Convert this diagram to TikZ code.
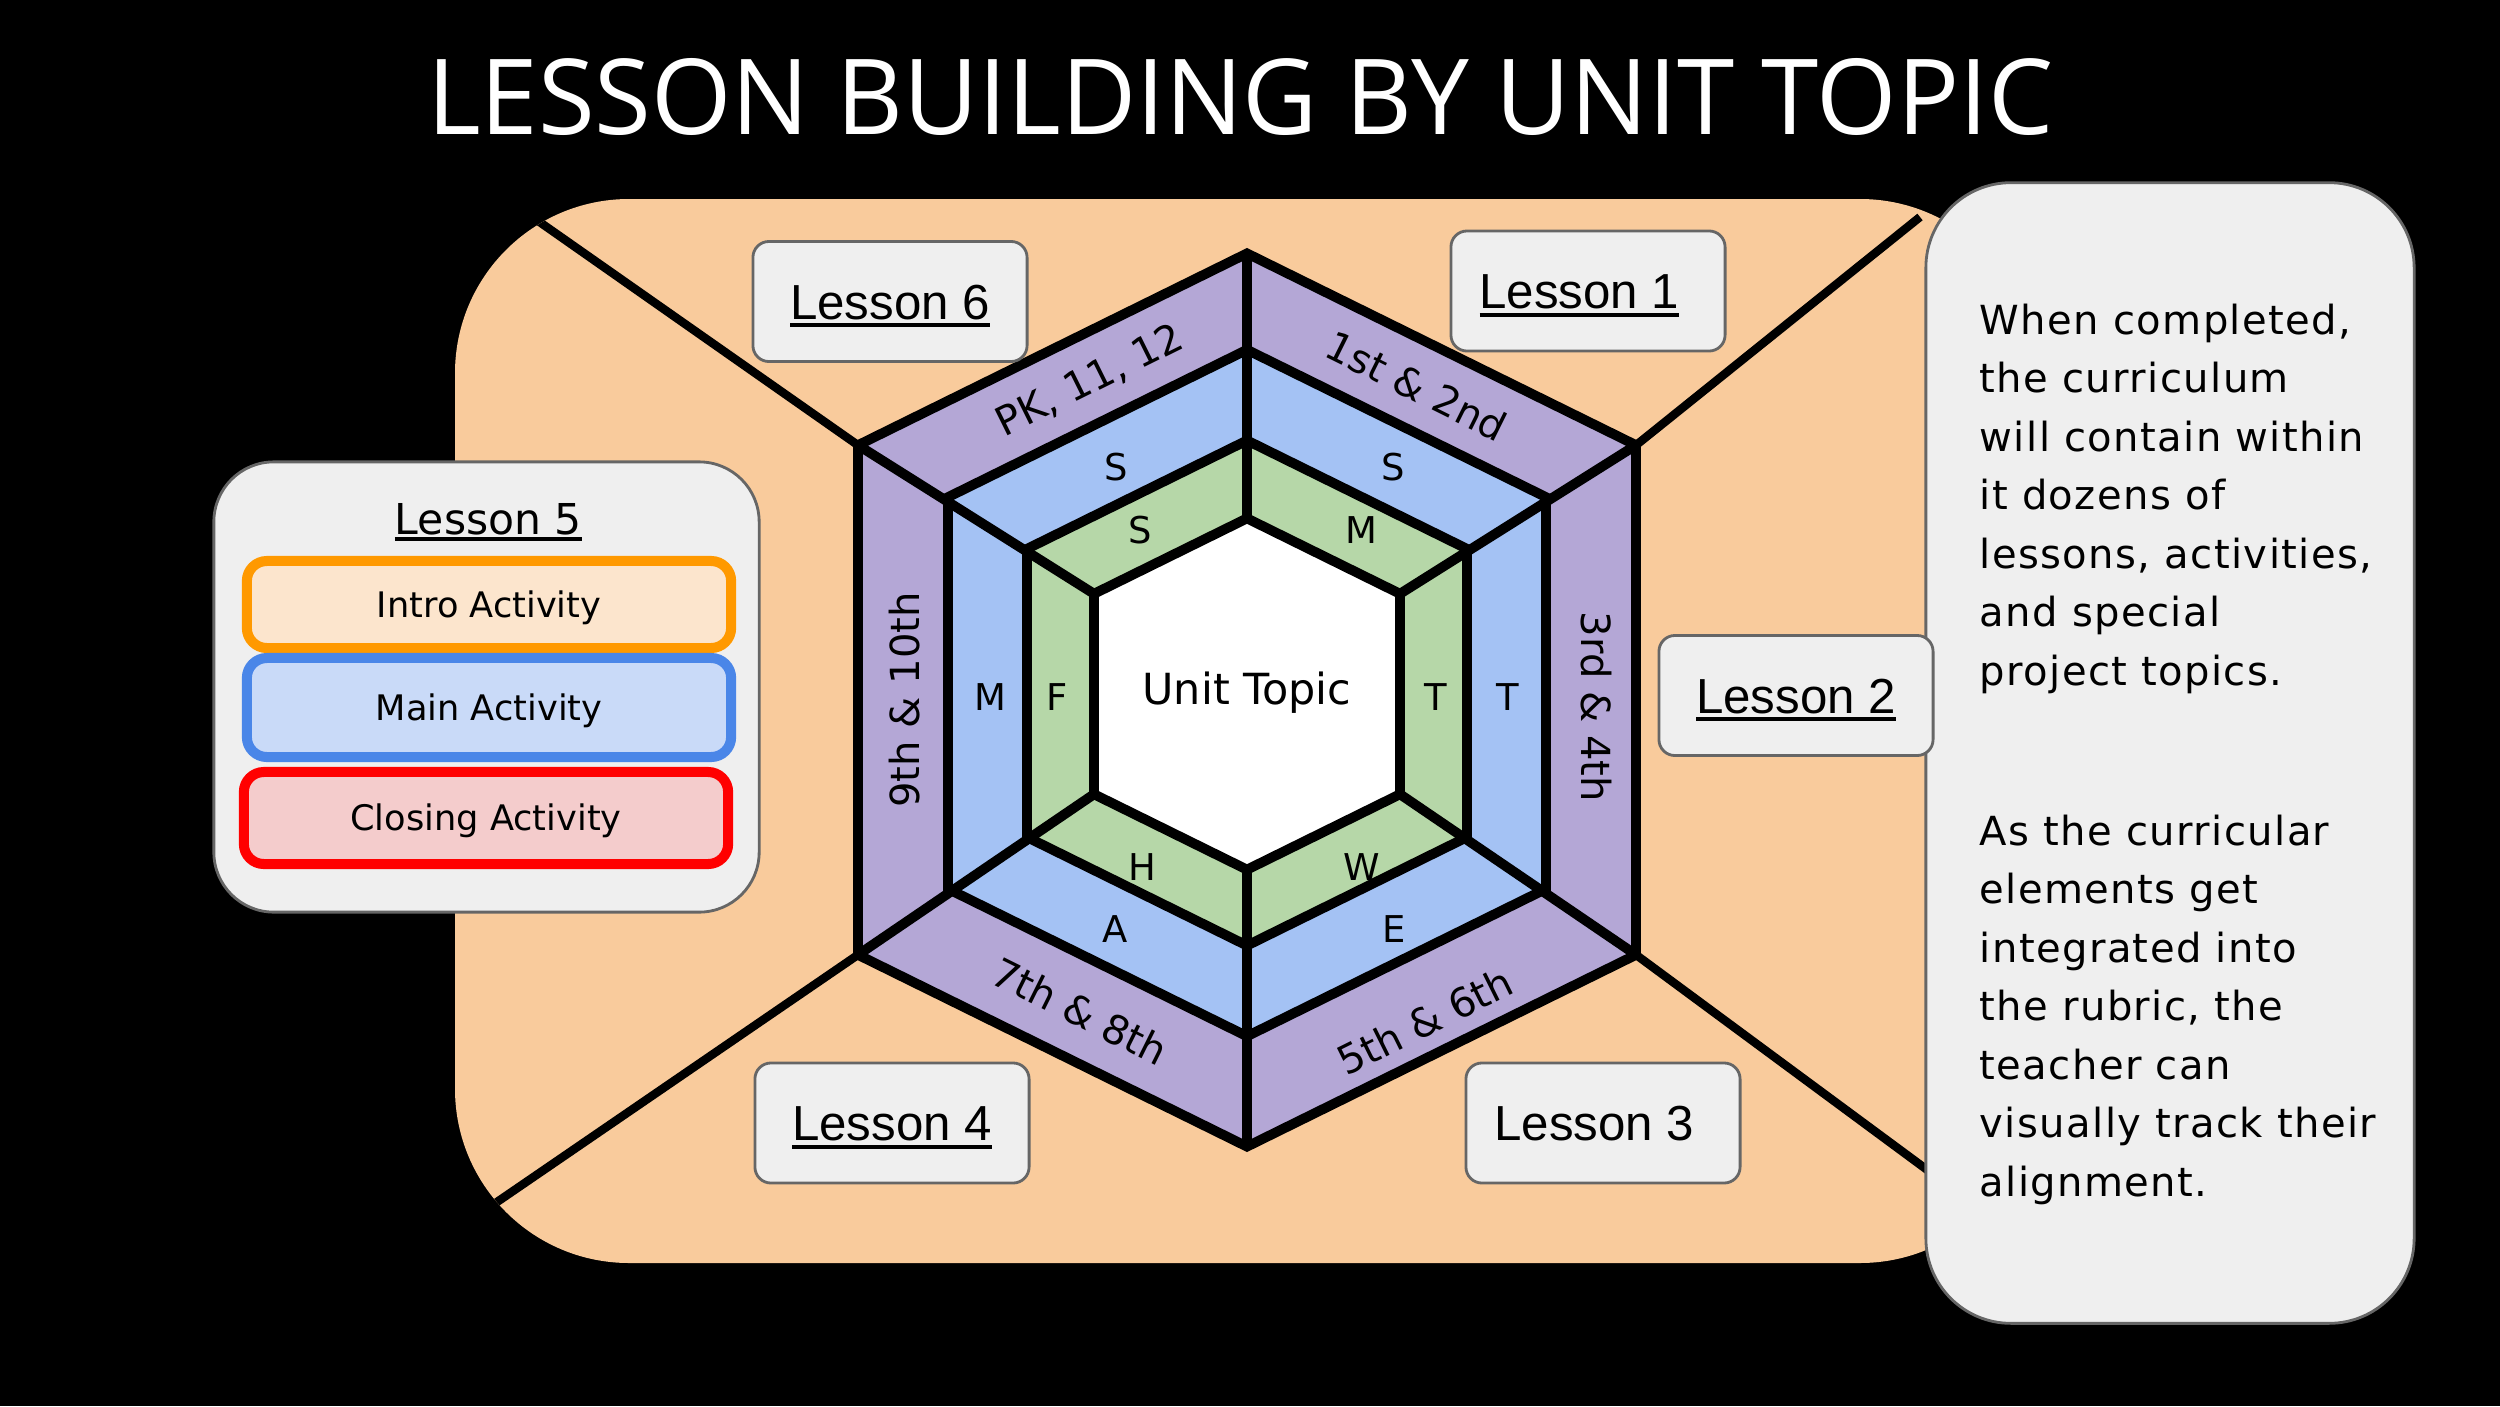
\documentclass[tikz,border=0pt]{standalone}
\usepackage{fontspec}
\usepackage{graphicx}
\setmainfont{DejaVu Sans}
\newfontfamily\arialf{Liberation Sans}
\newfontfamily\titlef{Open Sans}
\newfontfamily\panelf{DejaVu Sans}[LetterSpace=3.5]
\usetikzlibrary{calc}
\definecolor{peach}{HTML}{F9CB9C}
\definecolor{purp}{HTML}{B4A7D6}
\definecolor{bluer}{HTML}{A4C2F4}
\definecolor{greenr}{HTML}{B6D7A8}
\definecolor{panelgray}{HTML}{EFEFEF}
\definecolor{bordergray}{HTML}{666666}
\definecolor{introfill}{HTML}{FCE5CD}
\definecolor{introline}{HTML}{FF9900}
\definecolor{mainfill}{HTML}{C9DAF8}
\definecolor{mainline}{HTML}{4A86E8}
\definecolor{closefill}{HTML}{F4CCCC}
\definecolor{closeline}{HTML}{FF0000}
\newsavebox\ulbox
\newcommand{\ulx}[3]{\sbox\ulbox{#1}\rlap{\rule[#2]{\wd\ulbox}{#3}}\usebox\ulbox}
\tikzset{
  hexline/.style={line width=2.8pt, black},
  divline/.style={line width=2.4pt, black},
  lessonbox/.style={draw=bordergray, line width=0.8pt, fill=panelgray, rounded corners=0.16cm,
    minimum width=2.74cm, minimum height=1.2cm, inner sep=0pt,
    font=\arialf\fontsize{14}{16}\selectfont, text height=10pt, text depth=0pt},
  actbox/.style={line width=2.85pt, rounded corners=0.2cm, minimum width=4.84cm, inner sep=0pt,
    font=\fontsize{10}{12}\selectfont, text height=7.3pt, text depth=0pt},
  plabel/.style={inner sep=0pt, font=\fontsize{11.4}{13}\selectfont},
  hlabel/.style={inner sep=0pt, font=\fontsize{10.5}{12}\selectfont},
  ptext/.style={anchor=base west, inner sep=0pt, font=\panelf\fontsize{11.4}{14}\selectfont},
}
\begin{document}
\begin{tikzpicture}[x=0.01cm, y=-0.01cm]
\useasboundingbox (0,0) rectangle (2500,1406);
\fill[black] (0,0) rectangle (2500,1406);

% title
\node[text=white, anchor=base, inner sep=0pt] (title) at (1240,134)
  {\resizebox{16.25cm}{0.76cm}{\titlef LESSON BUILDING BY UNIT TOPIC}};

% peach background
\fill[peach, rounded corners=1.74cm] (455,199) rectangle (2034,1263);

% hexagon vertices (ring, scale, centre y)
\foreach \n/\s/\cy in {P/389/700,B/299/693,G/220/693,W/153/694}{
  \coordinate (\n0) at (1247, \cy-1.148*\s);
  \coordinate (\n1) at (1247+\s, \cy-0.655*\s);
  \coordinate (\n2) at (1247+\s, \cy+0.655*\s);
  \coordinate (\n3) at (1247, \cy+1.148*\s);
  \coordinate (\n4) at (1247-\s, \cy+0.655*\s);
  \coordinate (\n5) at (1247-\s, \cy-0.655*\s);
}
\coordinate (eUL) at (541,223);
\coordinate (eLL) at (497,1202);
\coordinate (eUR) at (1920,217);
\coordinate (eLR) at (1926,1169);

% long dividing lines
\begin{scope}
  \clip[rounded corners=1.74cm] (455,199) rectangle (2034,1263);
  \draw[divline] (P5) -- ($(P5)!1.2!(eUL)$);
  \draw[divline] (P4) -- ($(P4)!1.2!(eLL)$);
  \draw[divline] (P1) -- (eUR);
  \draw[divline] (P2) -- ($(P2)!1.5!(eLR)$);
\end{scope}

% hexagon rings
\fill[purp] (P0)--(P1)--(P2)--(P3)--(P4)--(P5)--cycle;
\fill[bluer] (B0)--(B1)--(B2)--(B3)--(B4)--(B5)--cycle;
\fill[greenr] (G0)--(G1)--(G2)--(G3)--(G4)--(G5)--cycle;
\fill[white] (W0)--(W1)--(W2)--(W3)--(W4)--(W5)--cycle;
\foreach \n in {P,B,G,W}
  \draw[hexline] (\n0)--(\n1)--(\n2)--(\n3)--(\n4)--(\n5)--cycle;
\foreach \i in {0,...,5}
  \draw[hexline] (W\i) -- (P\i);

% ring labels
\node[plabel, rotate=26.4] (lpk) at (1090,381) {PK, 11, 12};
\node[plabel, rotate=-26.4] (l12) at (1417,386) {1st \& 2nd};
\node[plabel, rotate=-90] (l34) at (1596,707) {3rd \& 4th};
\node[plabel, rotate=26.4] (l56) at (1425,1021) {5th \& 6th};
\node[plabel, rotate=-26.4] (l78) at (1080,1011) {7th \& 8th};
\node[plabel, rotate=90] (l910) at (905,700) {9th \& 10th};

\node[hlabel] (b1) at (1116,467) {S};
\node[hlabel] (b2) at (1393,467) {S};
\node[hlabel] (b3) at (1508,697) {T};
\node[hlabel] (b4) at (1394,929) {E};
\node[hlabel] (b5) at (1115,929) {A};
\node[hlabel] (b6) at (990,697) {M};

\node[hlabel] (g1) at (1140,530) {S};
\node[hlabel] (g2) at (1361,530) {M};
\node[hlabel] (g3) at (1436,697) {T};
\node[hlabel] (g4) at (1362,867) {W};
\node[hlabel] (g5) at (1142,867) {H};
\node[hlabel] (g6) at (1057,697) {F};

\node[anchor=base, inner sep=0pt, font=\fontsize{12.2}{14}\selectfont] (unit) at (1247,704) {Unit Topic};

% lesson boxes
\node[lessonbox] (les6) at (890,301.5) {\ulx{Lesson 6}{-2.3pt}{1.1pt}};
\node[lessonbox] (les1) at (1588,291) {\ulx{Lesson 1}{-2.3pt}{1.1pt}\kern0.17cm};
\node[lessonbox] (les3) at (1603,1123) {Lesson 3\kern0.17cm};
\node[lessonbox] (les4) at (892,1123) {\ulx{Lesson 4}{-2.3pt}{1.1pt}};

% lesson 5
\node[draw=bordergray, line width=0.8pt, fill=panelgray, rounded corners=0.6cm,
  minimum width=5.45cm, minimum height=4.5cm, inner sep=0pt] (les5) at (486.5,687) {};
\node[anchor=base, inner sep=0pt, font=\fontsize{12.1}{14}\selectfont] (les5t) at (488.5,534)
  {\ulx{Lesson 5}{-1.9pt}{1.05pt}};
\node[actbox, draw=introline, fill=introfill, minimum height=0.87cm] (intro) at (489,604.5) {Intro Activity};
\node[actbox, draw=mainline, fill=mainfill, minimum height=0.99cm] (main) at (489,707.5) {Main Activity};
\node[actbox, draw=closeline, fill=closefill, minimum height=0.92cm] (closing) at (486,818) {Closing Activity};

% right panel
\node[draw=bordergray, line width=0.8pt, fill=panelgray, rounded corners=0.85cm,
  minimum width=4.88cm, minimum height=11.4cm, inner sep=0pt] (panel) at (2170,753) {};
\foreach \t [count=\i from 0] in {{When completed,},{the curriculum},{will contain within},{it dozens of},{lessons, activities,},{and special},{project topics.}}
  \node[ptext] (pa\i) at (1979, 334+58.5*\i) {\t};
\foreach \t [count=\i from 0] in {{As the curricular},{elements get},{integrated into},{the rubric, the},{teacher can},{visually track their},{alignment.}}
  \node[ptext] (pb\i) at (1979, 845+58.5*\i) {\t};

% lesson 2 (on top of panel)
\node[lessonbox] (les2) at (1796,695.5) {\ulx{Lesson 2}{-2.3pt}{1.1pt}};
\end{tikzpicture}
\end{document}
